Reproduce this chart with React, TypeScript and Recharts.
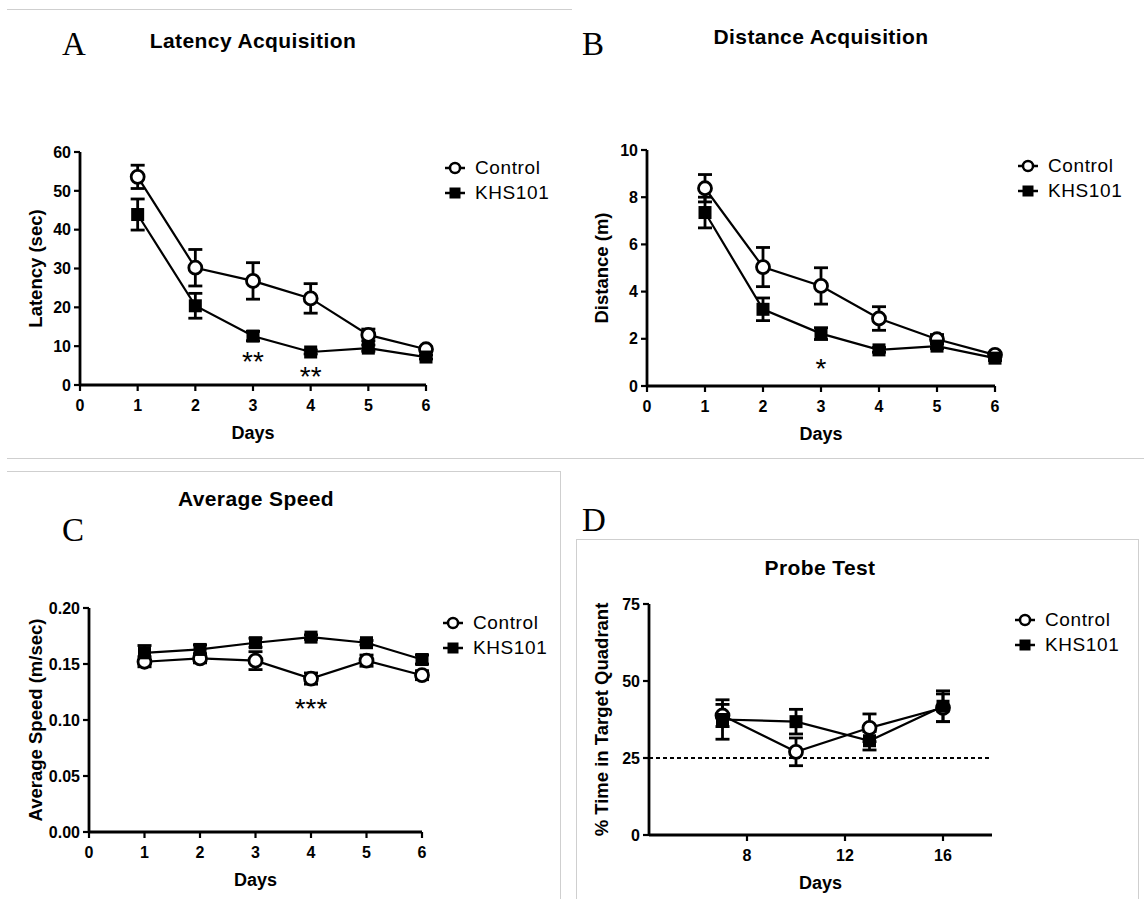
import React from 'react';
import { LineChart, Line, XAxis, YAxis, ErrorBar, ReferenceLine, ReferenceDot, Legend } from 'recharts';

const W = 1144;
const H = 899;
const FONT = '"Liberation Sans", Arial, sans-serif';

// acquisition days (panels A-C)
const days = [1, 2, 3, 4, 5, 6];

// A: latency (sec)
const latencyControl = [53.6, 30.2, 26.8, 22.3, 12.9, 9.2];
const latencyControlErr = [3.0, 4.7, 4.7, 3.8, 1.5, 0.6];
const latencyKhs = [43.9, 20.4, 12.6, 8.5, 9.5, 7.2];
const latencyKhsErr = [4.0, 3.2, 1.2, 0.5, 0.8, 0.5];

// B: distance (m)
const distanceControl = [8.38, 5.04, 4.24, 2.86, 1.98, 1.32];
const distanceControlErr = [0.58, 0.83, 0.77, 0.5, 0.2, 0.1];
const distanceKhs = [7.35, 3.25, 2.22, 1.53, 1.69, 1.18];
const distanceKhsErr = [0.65, 0.48, 0.25, 0.1, 0.1, 0.1];

// C: average speed (m/sec)
const speedControl = [0.152, 0.155, 0.153, 0.137, 0.153, 0.140];
const speedControlErr = [0.0045, 0.004, 0.008, 0.005, 0.005, 0.004];
const speedKhs = [0.160, 0.163, 0.169, 0.174, 0.169, 0.154];
const speedKhsErr = [0.0065, 0.004, 0.004, 0.002, 0.002, 0.004];

// D: probe test
const probeDays = [7, 10, 13, 16];
const probeControl = [38.8, 27.0, 34.8, 41.3];
const probeControlErr = [3.6, 4.5, 4.5, 4.5];
const probeKhs = [37.5, 36.8, 30.6, 41.8];
const probeKhsErr = [6.4, 4.0, 3.0, 5.0];

const dayTicks = [0, 1, 2, 3, 4, 5, 6];
const probeTicks = [8, 12, 16];

const series = [
  { key: 'control', name: 'Control' },
  { key: 'khs', name: 'KHS101' },
];

function rows(x: number[], c: number[], ce: number[], k: number[], ke: number[]) {
  return x.map((d, i) => ({ day: d, control: c[i], controlErr: ce[i], khs: k[i], khsErr: ke[i] }));
}

const circleDot = (p: any) => (
  <circle key={`c-${p.index}`} cx={p.cx} cy={p.cy} r={6.5} fill="#fff" stroke="#000" strokeWidth={2.8} />
);
const squareDot = (p: any) => (
  <rect key={`s-${p.index}`} x={p.cx - 6.5} y={p.cy - 6.5} width={13} height={13} fill="#000" />
);

function LegendBox() {
  return (
    <div style={{ fontFamily: FONT, fontSize: 19, color: '#000' }}>
      {series.map((s) => (
        <div key={s.key} style={{ display: 'flex', alignItems: 'center', height: 25 }}>
          <svg width={22} height={16} style={{ marginRight: 9 }}>
            <line x1={1} y1={8} x2={21} y2={8} stroke="#000" strokeWidth={2.5} />
            {s.key === 'control' ? (
              <circle cx={11} cy={8} r={5} fill="#fff" stroke="#000" strokeWidth={2.5} />
            ) : (
              <rect x={5.5} y={2.5} width={11} height={11} fill="#000" />
            )}
          </svg>
          <span style={{ letterSpacing: 0.6 }}>{s.name}</span>
        </div>
      ))}
    </div>
  );
}

interface PanelProps {
  data: any[];
  plot: { left: number; right: number; top: number; bottom: number };
  xDomain: [number, number];
  xTicks: number[];
  yDomain: [number, number];
  yTicks: number[];
  yLabel: string;
  yLabelX: number;
  yFormat?: (v: number) => string;
  stars: { x: number; y: number; text: string }[];
  refY?: number;
  legend: { x: number; y: number };
}

function Panel({ data, plot, xDomain, xTicks, yDomain, yTicks, yLabel, yLabelX, yFormat, stars, refY, legend }: PanelProps) {
  const xh = 60;
  const tick = { fill: '#000', fontSize: 16, fontWeight: 'bold' as const, fontFamily: FONT };
  const axisLine = { stroke: '#000', strokeWidth: 2.8 };
  const tickLine = { stroke: '#000', strokeWidth: 2.2 };
  return (
    <div style={{ position: 'absolute', left: 0, top: 0 }}>
      <LineChart
        width={W}
        height={H}
        data={data}
        margin={{ top: plot.top, left: 0, right: W - plot.right, bottom: H - plot.bottom - xh }}
      >
        <XAxis
          type="number"
          dataKey="day"
          domain={xDomain}
          ticks={xTicks}
          height={xh}
          tick={tick}
          tickSize={6}
          tickMargin={9}
          axisLine={axisLine}
          tickLine={tickLine}
          label={{ value: 'Days', position: 'insideBottom', offset: 6, fill: '#000', fontSize: 18, fontWeight: 'bold', fontFamily: FONT }}
        />
        <YAxis
          type="number"
          domain={yDomain}
          ticks={yTicks}
          width={plot.left}
          tick={tick}
          tickSize={6}
          tickMargin={3}
          tickFormatter={yFormat}
          axisLine={axisLine}
          tickLine={tickLine}
          label={{
            value: yLabel,
            angle: -90,
            position: 'insideLeft',
            offset: yLabelX,
            fill: '#000',
            fontSize: 18.5,
            fontWeight: 'bold',
            fontFamily: FONT,
            style: { textAnchor: 'middle' },
          }}
        />
        {refY !== undefined && (
          <ReferenceLine y={refY} stroke="#000" strokeWidth={2.2} strokeDasharray="4 3" />
        )}
        <Line
          dataKey="control"
          stroke="#000"
          strokeWidth={2.2}
          dot={circleDot}
          activeDot={false}
          isAnimationActive={false}
        >
          <ErrorBar dataKey="controlErr" direction="y" width={7} stroke="#000" strokeWidth={2.8} />
        </Line>
        <Line
          dataKey="khs"
          stroke="#000"
          strokeWidth={2.2}
          dot={squareDot}
          activeDot={false}
          isAnimationActive={false}
        >
          <ErrorBar dataKey="khsErr" direction="y" width={7} stroke="#000" strokeWidth={2.8} />
        </Line>
        {stars.map((s, i) => (
          <ReferenceDot
            key={i}
            x={s.x}
            y={s.y}
            r={0}
            fill="none"
            stroke="none"
            label={{ value: s.text, position: 'center', fill: '#000', fontSize: 28, fontFamily: FONT }}
          />
        ))}
        <Legend
          layout="vertical"
          align="center"
          verticalAlign="middle"
          content={() => <LegendBox />}
          wrapperStyle={{ left: legend.x, top: legend.y, width: 'auto', height: 'auto' }}
        />
      </LineChart>
    </div>
  );
}

const line = (left: number, top: number, width: number, height: number) => (
  <div style={{ position: 'absolute', left, top, width, height, background: '#cfcfcf' }} />
);

const title = (text: string, cx: number, cy: number) => (
  <div
    style={{
      position: 'absolute',
      left: cx - 150,
      top: cy - 13,
      width: 300,
      textAlign: 'center',
      fontFamily: FONT,
      fontWeight: 'bold',
      fontSize: 21,
      lineHeight: '26px',
      letterSpacing: 0.4,
      color: '#000',
    }}
  >
    {text}
  </div>
);

const letter = (text: string, x: number, cy: number) => (
  <div
    style={{
      position: 'absolute',
      left: x,
      top: cy - 20,
      fontFamily: '"Liberation Serif", "DejaVu Serif", serif',
      fontSize: 33,
      lineHeight: '40px',
      color: '#000',
    }}
  >
    {text}
  </div>
);

export default function App() {
  return (
    <div style={{ position: 'absolute', left: 0, top: 0, width: W, height: H, background: '#fff', overflow: 'hidden' }}>
      {line(7, 9, 565, 1)}
      {line(7, 458, 565, 1)}
      {line(572, 458, 572, 1)}
      {line(7, 471, 553, 1)}
      {line(560, 471, 1, 428)}
      {line(576, 539, 562, 1)}
      {line(576, 539, 1, 360)}
      {line(1138, 539, 1, 360)}

      {letter('A', 62, 44)}
      {letter('B', 582, 44)}
      {letter('C', 62, 530)}
      {letter('D', 582, 520)}

      {title('Latency Acquisition', 253, 41)}
      {title('Distance Acquisition', 821, 37)}
      {title('Average Speed', 256, 499)}
      {title('Probe Test', 820, 568)}

      <Panel
        data={rows(days, latencyControl, latencyControlErr, latencyKhs, latencyKhsErr)}
        plot={{ left: 80, right: 426, top: 152, bottom: 385 }}
        xDomain={[0, 6]}
        xTicks={dayTicks}
        yDomain={[0, 60]}
        yTicks={[0, 10, 20, 30, 40, 50, 60]}
        yLabel="Latency (sec)"
        yLabelX={35}
        stars={[
          { x: 3, y: 6.2, text: '**' },
          { x: 4, y: 2.4, text: '**' },
        ]}
        legend={{ x: 444, y: 155 }}
      />
      <Panel
        data={rows(days, distanceControl, distanceControlErr, distanceKhs, distanceKhsErr)}
        plot={{ left: 647, right: 995, top: 150, bottom: 386 }}
        xDomain={[0, 6]}
        xTicks={dayTicks}
        yDomain={[0, 10]}
        yTicks={[0, 2, 4, 6, 8, 10]}
        yLabel="Distance (m)"
        yLabelX={601}
        stars={[{ x: 3, y: 0.75, text: '*' }]}
        legend={{ x: 1017, y: 153 }}
      />
      <Panel
        data={rows(days, speedControl, speedControlErr, speedKhs, speedKhsErr)}
        plot={{ left: 89, right: 422, top: 608, bottom: 832 }}
        xDomain={[0, 6]}
        xTicks={dayTicks}
        yDomain={[0, 0.2]}
        yTicks={[0, 0.05, 0.1, 0.15, 0.2]}
        yFormat={(v) => v.toFixed(2)}
        yLabel="Average Speed (m/sec)"
        yLabelX={35}
        stars={[{ x: 4, y: 0.111, text: '***' }]}
        legend={{ x: 442, y: 610 }}
      />
      <Panel
        data={rows(probeDays, probeControl, probeControlErr, probeKhs, probeKhsErr)}
        plot={{ left: 649, right: 992, top: 604, bottom: 835 }}
        xDomain={[4, 18]}
        xTicks={probeTicks}
        yDomain={[0, 75]}
        yTicks={[0, 25, 50, 75]}
        yLabel="% Time in Target Quadrant"
        yLabelX={601}
        stars={[]}
        refY={25}
        legend={{ x: 1014, y: 607 }}
      />
    </div>
  );
}
